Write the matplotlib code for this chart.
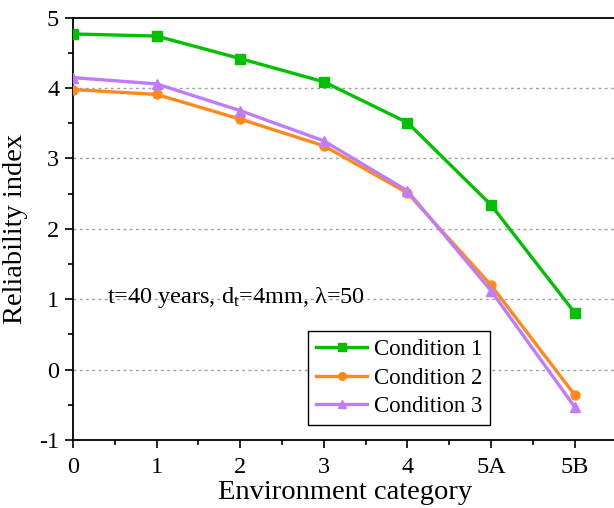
import matplotlib
matplotlib.use("Agg")
import matplotlib.pyplot as plt
from matplotlib.ticker import MultipleLocator, FixedLocator

plt.rcParams["font.family"] = ["Liberation Serif", "DejaVu Serif"]
plt.rcParams["mathtext.fontset"] = "custom"
plt.rcParams["mathtext.rm"] = "Liberation Serif"
plt.rcParams["mathtext.it"] = "Liberation Serif"
plt.rcParams["axes.unicode_minus"] = False

# ─── Data ─────────────────────────────────────────────
categories = ["0", "1", "2", "3", "4", "5A", "5B"]
condition_1 = [4.77, 4.74, 4.42, 4.09, 3.51, 2.34, 0.81]
condition_2 = [3.98, 3.91, 3.56, 3.18, 2.51, 1.20, -0.36]
condition_3 = [4.15, 4.06, 3.68, 3.25, 2.54, 1.12, -0.53]

GREEN = "#00c000"
ORANGE = "#ff8a1c"
PURPLE = "#c07cff"

fig = plt.figure(figsize=(6.14, 5.08), dpi=100)
ax = fig.add_axes([0.119, 0.134, 0.885, 0.831])

x = list(range(len(categories)))
ax.plot(x, condition_1, color=GREEN, lw=2.4, marker="s", ms=6.5, label="Condition 1", zorder=3)
ax.plot(x, condition_2, color=ORANGE, lw=2.4, marker="o", ms=6.5, label="Condition 2", zorder=3)
ax.plot(x, condition_3, color=PURPLE, lw=2.4, marker="^", ms=7, label="Condition 3", zorder=3)

ax.set_xlim(0, 6.5)
ax.set_ylim(-1, 5)
ax.set_xticks(x)
ax.set_xticklabels(categories)
ax.xaxis.set_minor_locator(FixedLocator([i + 0.5 for i in range(7)]))
ax.yaxis.set_major_locator(MultipleLocator(1))
ax.yaxis.set_minor_locator(MultipleLocator(0.5))

ax.tick_params(which="both", direction="out", labelsize=17.5, top=False, right=False)
ax.tick_params(which="major", length=6, width=1.2, pad=4)
ax.tick_params(axis="x", which="major", pad=6)
ax.tick_params(which="minor", length=3.5, width=1.2)
for s in ax.spines.values():
    s.set_linewidth(1.3)

for yv in [0, 1, 2, 3, 4]:
    ax.axhline(yv, color="#a0a0a0", lw=1.0, ls=(0, (2, 2.5)), zorder=1)

ax.set_xlabel("Environment category", fontsize=20.5, labelpad=2)
ax.set_ylabel("Reliability index", fontsize=20.5, labelpad=8)

ax.text(0.4, 1.03, r"t=40 years, d$_{\rm t}$=4mm, λ=50", fontsize=17.5, va="center", ha="left")

leg = ax.legend(loc="lower left", bbox_to_anchor=(0.433, 0.035), fontsize=16.5, frameon=True,
                fancybox=False, edgecolor="black", framealpha=1, handlelength=2.2,
                borderpad=0.35, labelspacing=0.32, handletextpad=0.3, borderaxespad=0,
                markerscale=0.85)
leg.get_frame().set_linewidth(1.0)

fig.savefig("out.png", dpi=100)
